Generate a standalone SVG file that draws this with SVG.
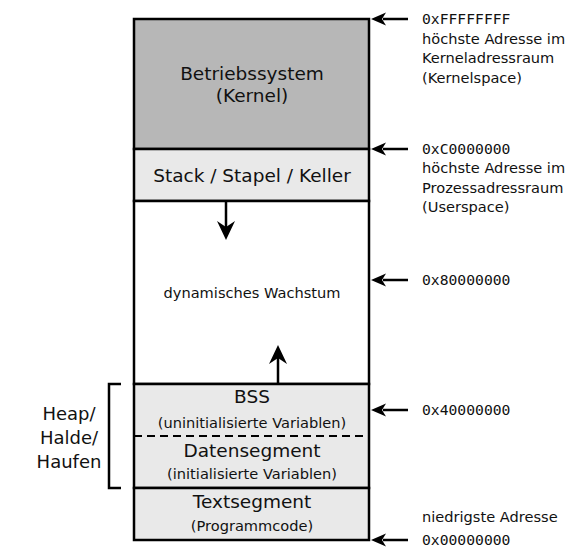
<svg xmlns="http://www.w3.org/2000/svg" width="582" height="559" viewBox="0 0 582 559">
<style>
.seg{stroke:#000;stroke-width:2.5}
.dark{fill:#b7b7b7}
.light{fill:#e9e9e9}
.white{fill:#fff}
.big{font-family:"DejaVu Sans",sans-serif;font-size:18.5px;text-anchor:middle;fill:#111}
.side{font-family:"DejaVu Sans",sans-serif;font-size:18px;text-anchor:middle;fill:#111}
.small{font-family:"DejaVu Sans",sans-serif;font-size:14.6px;text-anchor:middle;fill:#111}
.mono{font-family:"DejaVu Sans Mono",monospace;font-size:14.7px;fill:#111}
.note{font-family:"DejaVu Sans",sans-serif;font-size:14.6px;fill:#111}
.line{stroke:#000;stroke-width:2.5;fill:none}
.head{fill:#000}
</style>
<rect width="582" height="559" fill="#fff"/>
<g id="kernel">
<rect class="seg dark" x="134" y="19" width="235" height="130"/>
<text class="big" x="252" y="80">Betriebssystem</text>
<text class="big" x="252" y="102">(Kernel)</text>
</g>
<g id="stack">
<rect class="seg light" x="134" y="149" width="235" height="52"/>
<text class="big" x="252" y="182">Stack / Stapel / Keller</text>
</g>
<g id="dynamic">
<rect class="seg white" x="134" y="201" width="235" height="183"/>
<text class="small" x="252" y="298">dynamisches Wachstum</text>
</g>
<g id="heap">
<rect class="seg light" x="134" y="384" width="235" height="104"/>
<line x1="134" y1="436" x2="369" y2="436" stroke="#000" stroke-width="2.2" stroke-dasharray="8,5"/>
<text class="big" x="252" y="403">BSS</text>
<text class="small" x="252" y="428">(uninitialisierte Variablen)</text>
<text class="big" x="252" y="457">Datensegment</text>
<text class="small" x="252" y="479">(initialisierte Variablen)</text>
</g>
<g id="text-segment">
<rect class="seg light" x="134" y="488" width="235" height="52"/>
<text class="big" x="252" y="508">Textsegment</text>
<text class="small" x="252" y="531">(Programmcode)</text>
</g>
<g id="heap-label">
<path class="line" d="M121,384 H109 V488 H121"/>
<text class="side" x="69" y="420">Heap/</text>
<text class="side" x="69" y="444">Halde/</text>
<text class="side" x="69" y="468">Haufen</text>
</g>
<g id="connectors">
<path class="line" d="M226,201 V228"/>
<path class="head" d="M226,240 L217,221 L226,227 L235,221 Z"/>
<path class="line" d="M278,384 V357"/>
<path class="head" d="M278,345 L269,364 L278,358 L287,364 Z"/>
<path class="line" d="M383,19 H408 M383,149 H408 M383,280 H408 M383,410 H408 M383,540 H408"/>
<path class="head" d="M371,19 l15,-6.5 l-4,6.5 l4,6.5 Z M371,149 l15,-6.5 l-4,6.5 l4,6.5 Z M371,280 l15,-6.5 l-4,6.5 l4,6.5 Z M371,410 l15,-6.5 l-4,6.5 l4,6.5 Z M371,540 l15,-6.5 l-4,6.5 l4,6.5 Z"/>
</g>
<g id="addr-top">
<text class="mono" x="422" y="24">0xFFFFFFFF</text>
<text class="note" x="422" y="43.5">höchste Adresse im</text>
<text class="note" x="422" y="63">Kerneladressraum</text>
<text class="note" x="422" y="82.5">(Kernelspace)</text>
</g>
<g id="addr-c">
<text class="mono" x="422" y="154">0xC0000000</text>
<text class="note" x="422" y="173">höchste Adresse im</text>
<text class="note" x="422" y="192.5">Prozessadressraum</text>
<text class="note" x="422" y="212">(Userspace)</text>
</g>
<g id="addr-8">
<text class="mono" x="422" y="285">0x80000000</text>
</g>
<g id="addr-4">
<text class="mono" x="422" y="415">0x40000000</text>
</g>
<g id="addr-0">
<text class="note" x="422" y="522">niedrigste Adresse</text>
<text class="mono" x="422" y="545">0x00000000</text>
</g>
</svg>
